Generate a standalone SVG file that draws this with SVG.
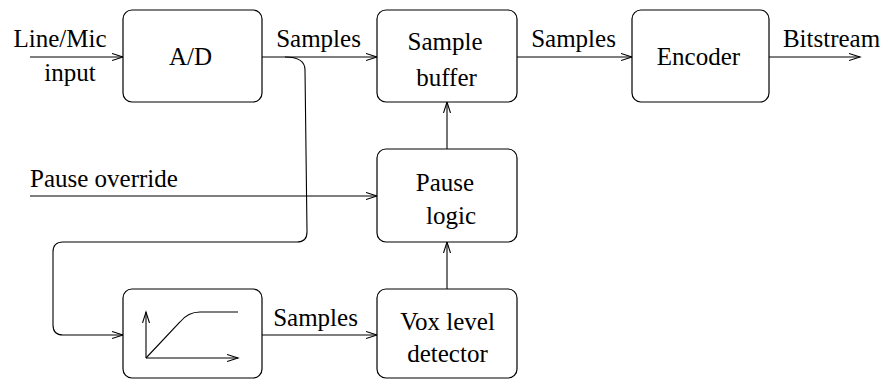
<svg xmlns="http://www.w3.org/2000/svg" width="886" height="380" viewBox="0 0 886 380">
<style>
  .box { fill: #ffffff; stroke: #000000; stroke-width: 1.2; }
  .wire { fill: none; stroke: #000000; stroke-width: 1.1; }
  text { font-family: 'Liberation Serif', 'Times New Roman', Times, serif; font-size: 25px; fill: #000000; text-anchor: middle; }
</style>
<defs>
  <marker id="arr" markerUnits="userSpaceOnUse" markerWidth="14" markerHeight="10" refX="11" refY="4" orient="auto">
    <path d="M0,0.5 L11,4 L0,7.5" fill="none" stroke="#000000" stroke-width="1.1"/>
  </marker>
</defs>
<rect width="886" height="380" fill="#ffffff"/>

<g id="connectors">
  <path class="wire" d="M30,57 L123,57" marker-end="url(#arr)"/>
  <path class="wire" d="M262,57 L377,57" marker-end="url(#arr)"/>
  <path class="wire" d="M517,57 L632,57" marker-end="url(#arr)"/>
  <path class="wire" d="M769,57 L860,57" marker-end="url(#arr)"/>
  <path class="wire" d="M30,196 L377,196" marker-end="url(#arr)"/>
  <path class="wire" d="M447,149 L447,102" marker-end="url(#arr)"/>
  <path class="wire" d="M447,289 L447,242" marker-end="url(#arr)"/>
  <path class="wire" d="M262,335 L377,335" marker-end="url(#arr)"/>
  <path class="wire" d="M285,57 Q305,57 305,70 L307,232 Q307,242 297,242 L63,242 Q53,242 53,252 L53,325 Q53,335 63,335 L123,335" marker-end="url(#arr)"/>
  <text x="60" y="47">Line/Mic</text>
  <text x="70" y="81">input</text>
  <text x="318.5" y="47">Samples</text>
  <text x="573.5" y="47">Samples</text>
  <text x="831.5" y="47">Bitstream</text>
  <text x="30" y="187" style="text-anchor:start">Pause override</text>
  <text x="315.5" y="326">Samples</text>
</g>

<g id="ad">
  <rect class="box" x="123" y="10" width="139" height="92" rx="9"/>
  <text x="190.5" y="65">A/D</text>
</g>

<g id="sample-buffer">
  <rect class="box" x="377" y="10" width="140" height="92" rx="9"/>
  <text x="445" y="50">Sample</text>
  <text x="446.5" y="86">buffer</text>
</g>

<g id="encoder">
  <rect class="box" x="632" y="10" width="137" height="92" rx="9"/>
  <text x="698.5" y="65">Encoder</text>
</g>

<g id="pause-logic">
  <rect class="box" x="377" y="149" width="140" height="93" rx="9"/>
  <text x="445" y="191">Pause</text>
  <text x="451" y="224">logic</text>
</g>

<g id="vox-level-detector">
  <rect class="box" x="377" y="289" width="140" height="89" rx="9"/>
  <text x="447.5" y="330">Vox level</text>
  <text x="447.5" y="362">detector</text>
</g>

<g id="filter">
  <rect class="box" x="123" y="289" width="139" height="89" rx="9"/>
  <path class="wire" d="M146,358 L146,312" marker-end="url(#arr)"/>
  <path class="wire" d="M146,358 L238,358" marker-end="url(#arr)"/>
  <path class="wire" d="M146,358 L180,322 Q188,312 200,312 L238,312"/>
</g>
</svg>
